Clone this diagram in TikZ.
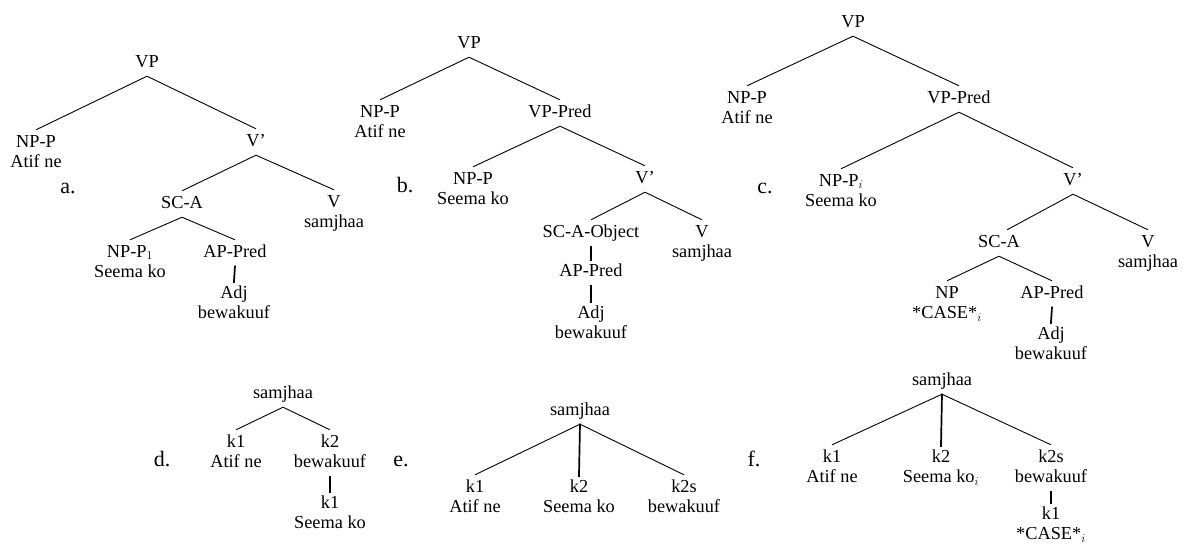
\documentclass[tikz,border=0pt]{standalone}
\usepackage{fontspec}
\setmainfont{Liberation Serif}
\newcommand\twoln[2]{\begin{tabular}[t]{@{}c@{}}#1\\\relax #2\end{tabular}}
\tikzset{
  one/.style={anchor=base, inner xsep=1pt, inner ysep=5pt, text height=12pt, text depth=4pt,
    font=\fontsize{18.3}{20.5}\selectfont},
  two/.style={one, text depth=24.5pt},
  edge/.style={line width=0.9pt},
  vedge/.style={line width=1.7pt, shorten >=-2pt, shorten <=-0.5pt},
  lab/.style={anchor=base, inner sep=0pt, font=\fontsize{22}{24}\selectfont}
}
\begin{document}
\begin{tikzpicture}[x=1pt,y=-1pt]
\useasboundingbox (0,0) rectangle (1183,544);
% ---------- a ----------
\node[one] (aVP)  at (147,67)  {VP};
\node[two] (aNP)  at (36,147)  {\twoln{NP-P}{Atif ne}};
\node[one] (aVb)  at (256,146) {V'};
\node[one] (aSC)  at (182,208) {SC-A};
\node[two] (aV)   at (334,207) {\twoln{V}{samjhaa}};
\node[two] (aNP1) at (130,257) {\twoln{NP-P$_1$}{Seema ko}};
\node[one] (aAP)  at (235,257) {AP-Pred};
\node[two] (aAdj) at (234,298) {\twoln{Adj}{bewakuuf}};
\node[lab] (la) at (68,193) {a.};
\draw[edge] (aVP.south) -- (aNP.north);
\draw[edge] (aVP.south) -- (aVb.north);
\draw[edge] (aVb.south) -- (aSC.north);
\draw[edge] (aVb.south) -- (aV.north);
\draw[edge] (aSC.south) -- (aNP1.north);
\draw[edge] (aSC.south) -- (aAP.north);
\draw[vedge] (aAP.south) -- (aAdj.north);
% ---------- b ----------
\node[one] (bVP)  at (469,48)  {VP};
\node[two] (bNP)  at (380,117) {\twoln{NP-P}{Atif ne}};
\node[one] (bVPP) at (560,117) {VP-Pred};
\node[two] (bNP2) at (473,184) {\twoln{NP-P}{Seema ko}};
\node[one] (bVb)  at (645,183) {V'};
\node[one] (bSC)  at (591,237) {SC-A-Object};
\node[two] (bV)   at (702,237) {\twoln{V}{samjhaa}};
\node[one] (bAP)  at (591,276) {AP-Pred};
\node[two] (bAdj) at (591,318) {\twoln{Adj}{bewakuuf}};
\node[lab] (lb) at (405,192) {b.};
\draw[edge] (bVP.south) -- (bNP.north);
\draw[edge] (bVP.south) -- (bVPP.north);
\draw[edge] (bVPP.south) -- (bNP2.north);
\draw[edge] (bVPP.south) -- (bVb.north);
\draw[edge] (bVb.south) -- (bSC.north);
\draw[edge] (bVb.south) -- (bV.north);
\draw[vedge] (bSC.south) -- (bAP.north);
\draw[vedge] (bAP.south) -- (bAdj.north);
% ---------- c ----------
\node[one] (cVP)  at (853,27)   {VP};
\node[two] (cNP)  at (747,103)  {\twoln{NP-P}{Atif ne}};
\node[one] (cVPP) at (959,103)  {VP-Pred};
\node[two] (cNPi) at (841,186)  {\twoln{NP-P$_i$}{Seema ko}};
\node[one] (cVb)  at (1073,185) {V'};
\node[one] (cSC)  at (999,247)  {SC-A};
\node[two] (cV)   at (1148,247) {\twoln{V}{samjhaa}};
\node[two] (cNP2) at (947,298)  {\twoln{NP}{*CASE*$_i$}};
\node[one] (cAP)  at (1052,298) {AP-Pred};
\node[two] (cAdj) at (1051,339) {\twoln{Adj}{bewakuuf}};
\node[lab] (lc) at (765,193) {c.};
\draw[edge] (cVP.south) -- (cNP.north);
\draw[edge] (cVP.south) -- (cVPP.north);
\draw[edge] (cVPP.south) -- (cNPi.north);
\draw[edge] (cVPP.south) -- (cVb.north);
\draw[edge] (cVb.south) -- ([xshift=8pt]cSC.north);
\draw[edge] (cVb.south) -- (cV.north);
\draw[edge] (cSC.south) -- (cNP2.north);
\draw[edge] (cSC.south) -- (cAP.north);
\draw[vedge] (cAP.south) -- (cAdj.north);
% ---------- d ----------
\node[one] (dS)   at (283,398) {samjhaa};
\node[two] (dK1)  at (236,447) {\twoln{k1}{Atif ne}};
\node[two] (dK2)  at (330,447) {\twoln{k2}{bewakuuf}};
\node[two] (dK1b) at (330,508) {\twoln{k1}{Seema ko}};
\node[lab] (ld) at (162,466) {d.};
\draw[edge] (dS.south) -- (dK1.north);
\draw[edge] (dS.south) -- (dK2.north);
\draw[vedge] (dK2.south) -- (dK1b.north);
% ---------- e ----------
\node[one] (eS)   at (580,415) {samjhaa};
\node[two] (eK1)  at (475,492) {\twoln{k1}{Atif ne}};
\node[two] (eK2)  at (579,492) {\twoln{k2}{Seema ko}};
\node[two] (eK2s) at (684,492) {\twoln{k2s}{bewakuuf}};
\node[lab] (le) at (401,466) {e.};
\draw[edge] (eS.south) -- (eK1.north);
\draw[vedge] (eS.south) -- (eK2.north);
\draw[edge] (eS.south) -- (eK2s.north);
% ---------- f ----------
\node[one] (fS)   at (942,385)  {samjhaa};
\node[two] (fK1)  at (832,462)  {\twoln{k1}{Atif ne}};
\node[two] (fK2)  at (941,462)  {\twoln{k2}{Seema ko$_i$}};
\node[two] (fK2s) at (1051,462) {\twoln{k2s}{bewakuuf}};
\node[two] (fK1b) at (1051,519) {\twoln{k1}{*CASE*$_i$}};
\node[lab] (lf) at (754,466) {f.};
\draw[edge] (fS.south) -- (fK1.north);
\draw[vedge] (fS.south) -- (fK2.north);
\draw[edge] (fS.south) -- (fK2s.north);
\draw[vedge] (fK2s.south) -- (fK1b.north);
\end{tikzpicture}
\end{document}
